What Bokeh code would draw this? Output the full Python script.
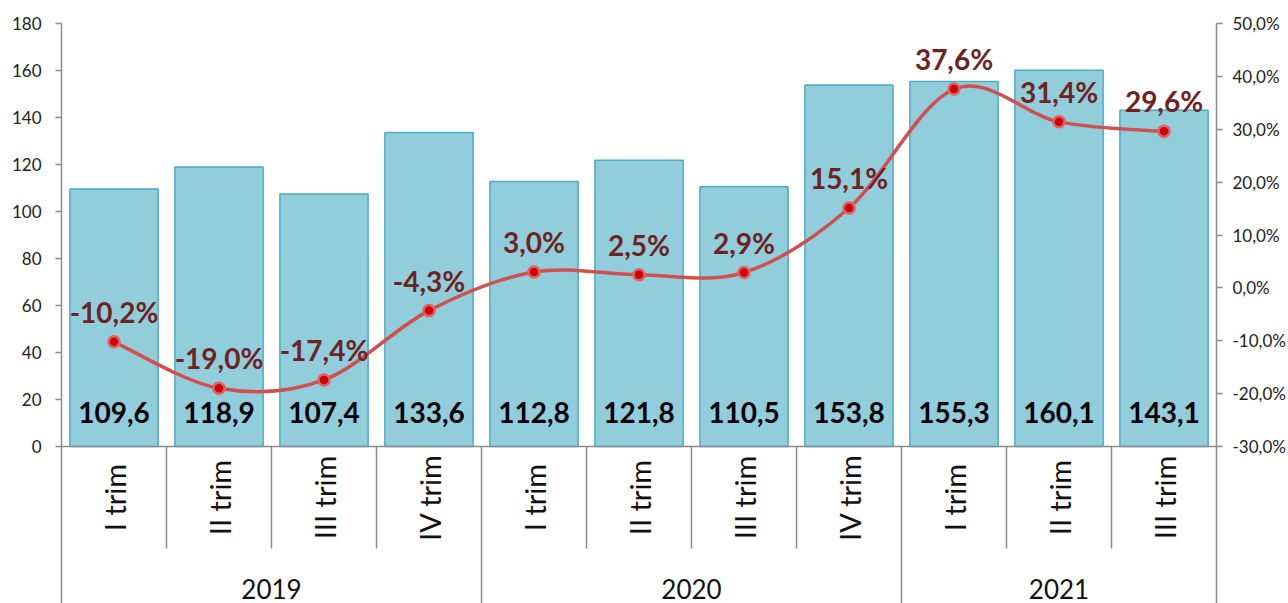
import math
from bokeh.plotting import figure
from bokeh.models import Range1d, LinearAxis, FixedTicker, ColumnDataSource
from bokeh.core.properties import value
from bokeh.embed import file_html
from bokeh.resources import INLINE

# ---- data ----
quarters = ["I trim", "II trim", "III trim", "IV trim",
            "I trim", "II trim", "III trim", "IV trim",
            "I trim", "II trim", "III trim"]
years = ["2019", "2020", "2021"]
year_sizes = [4, 4, 3]
bar_values = [109.6, 118.9, 107.4, 133.6, 112.8, 121.8, 110.5, 153.8, 155.3, 160.1, 143.1]
pct_values = [-10.2, -19.0, -17.4, -4.3, 3.0, 2.5, 2.9, 15.1, 37.6, 31.4, 29.6]
left_ticks = [0, 20, 40, 60, 80, 100, 120, 140, 160, 180]
right_ticks = [-30, -20, -10, 0, 10, 20, 30, 40, 50]

def fmt_num(v, d=1):
    return f"{v:.{d}f}".replace(".", ",")

FONT = "Lato"
AXIS_GRAY = "#8C8C8C"
n = len(bar_values)

# screen geometry: frame from y=23 (180) down to y=603; 0 at y=446
px_per_unit = (446 - 23) / 180.0
ymin = -(603 - 446) / px_per_unit
pct_per_px = 80.0 / (446 - 23)
pmin = -30 - (603 - 446) * pct_per_px

p = figure(width=1288, height=603, output_backend="svg", toolbar_location=None,
           x_range=Range1d(0, n), y_range=Range1d(ymin, 180),
           x_axis_location=None, y_axis_location="left",
           min_border_left=61, min_border_right=70, min_border_top=23, min_border_bottom=0)
p.outline_line_color = None
p.xgrid.visible = False
p.ygrid.visible = False
p.background_fill_color = "white"
p.border_fill_color = "white"

p.extra_y_ranges = {"pct": Range1d(pmin, 50)}

# left axis
ax = p.yaxis[0]
ax.ticker = FixedTicker(ticks=left_ticks)
ax.major_label_overrides = {t: str(t) for t in left_ticks}
ax.axis_line_color = AXIS_GRAY
ax.axis_line_width = 1.5
ax.major_tick_line_color = AXIS_GRAY
ax.major_tick_line_width = 1.5
ax.major_tick_out = 6
ax.major_tick_in = 0
ax.minor_tick_line_color = None
ax.major_label_standoff = 14
ax.major_label_text_font = FONT
ax.major_label_text_font_size = "17px"
ax.major_label_text_color = "#222222"

# right axis
rax = LinearAxis(y_range_name="pct", ticker=FixedTicker(ticks=right_ticks))
rax.major_label_overrides = {t: fmt_num(t) + "%" for t in right_ticks}
rax.axis_line_color = AXIS_GRAY
rax.axis_line_width = 1.5
rax.major_tick_line_color = AXIS_GRAY
rax.major_tick_line_width = 1.5
rax.major_tick_out = 6
rax.major_tick_in = 0
rax.minor_tick_line_color = None
rax.major_label_standoff = 10
rax.major_label_text_font = FONT
rax.major_label_text_font_size = "17px"
rax.major_label_text_color = "#222222"
p.add_layout(rax, "right")

xs = [i + 0.5 for i in range(n)]

# bars
src = ColumnDataSource(dict(x=xs, top=bar_values,
                            lab=[fmt_num(v) for v in bar_values],
                            laby=[14.5] * n))
p.vbar(x="x", top="top", bottom=0, width=0.84, source=src,
       fill_color="#92CDDC", line_color="#4BACC6", line_width=1.5)
p.text(x="x", y="laby", text="lab", source=src, text_align="center",
       text_baseline="middle", text_font=value(FONT), text_font_style="bold",
       text_font_size="28px", text_color="#000000")

# baseline
p.segment(x0=[0], y0=[0], x1=[n], y1=[0], line_color=AXIS_GRAY, line_width=1.5)

# separators
sep_short_y = -(548 - 446) / px_per_unit
bounds = []
acc = 0
for s in year_sizes[:-1]:
    acc += s
    bounds.append(acc)
short_x = [i for i in range(1, n) if i not in bounds]
p.segment(x0=short_x, y0=[0] * len(short_x), x1=short_x, y1=[sep_short_y] * len(short_x),
          line_color=AXIS_GRAY, line_width=1.5)
p.segment(x0=bounds, y0=[0] * len(bounds), x1=bounds, y1=[ymin] * len(bounds),
          line_color=AXIS_GRAY, line_width=1.5)

# quarter labels (rotated)
qy = -(497 - 446) / px_per_unit
p.text(x=xs, y=[qy] * n, text=quarters, angle=math.pi / 2, text_align="center",
       text_baseline="middle", text_font=value(FONT), text_font_size="29px",
       text_color="#111111")

# year labels
yc = []
acc = 0
for s in year_sizes:
    yc.append(acc + s / 2.0)
    acc += s
yy = -(588 - 446) / px_per_unit
p.text(x=yc, y=[yy] * len(yc), text=years, text_align="center", text_baseline="middle",
       text_font=value(FONT), text_font_size="26px", text_color="#111111")

# smoothed line (Catmull-Rom -> cubic Bezier)
P = list(zip(xs, pct_values))
x0s, y0s, x1s, y1s, c0x, c0y, c1x, c1y = [], [], [], [], [], [], [], []
for i in range(n - 1):
    pm = P[i - 1] if i > 0 else P[i]
    p0 = P[i]
    p1 = P[i + 1]
    p2 = P[i + 2] if i + 2 < n else P[i + 1]
    x0s.append(p0[0]); y0s.append(p0[1])
    x1s.append(p1[0]); y1s.append(p1[1])
    c0x.append(p0[0] + (p1[0] - pm[0]) / 6.0); c0y.append(p0[1] + (p1[1] - pm[1]) / 6.0)
    c1x.append(p1[0] - (p2[0] - p0[0]) / 6.0); c1y.append(p1[1] - (p2[1] - p0[1]) / 6.0)
p.bezier(x0=x0s, y0=y0s, x1=x1s, y1=y1s, cx0=c0x, cy0=c0y, cx1=c1x, cy1=c1y,
         y_range_name="pct", line_color="#D0504D", line_width=3.5)
p.scatter(x=xs, y=pct_values, y_range_name="pct", size=11, fill_color="#D00000",
          line_color="#E06060", line_width=2.5)

# percent labels
lab_off = 30 * pct_per_px
p.text(x=xs, y=[v + lab_off for v in pct_values], text=[fmt_num(v) + "%" for v in pct_values],
       y_range_name="pct", text_align="center", text_baseline="middle",
       text_font=value(FONT), text_font_style="bold", text_font_size="28px",
       text_color="#6E2323")

open("out.html", "w").write(file_html(p, INLINE))
